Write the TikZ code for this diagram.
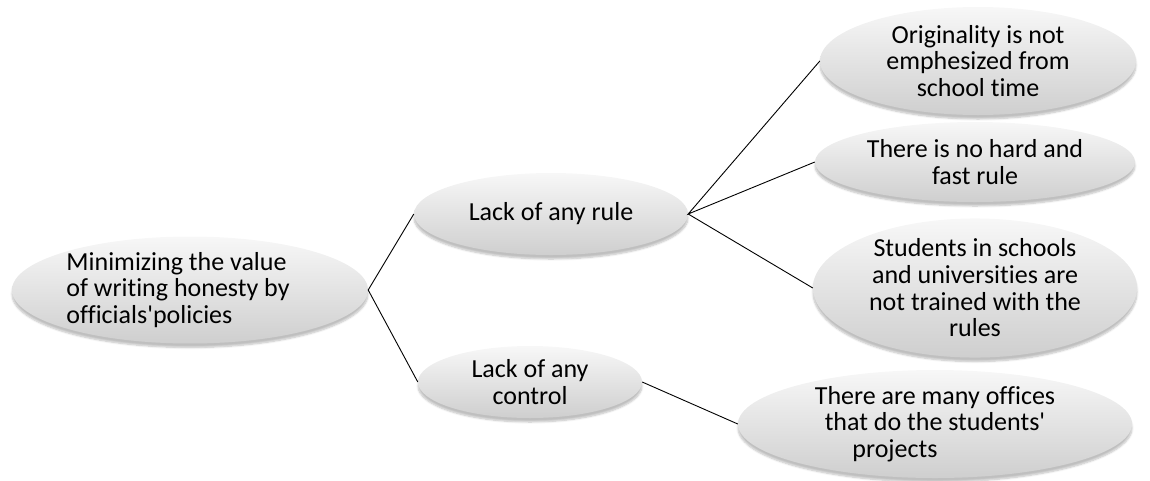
\documentclass[tikz,border=0pt]{standalone}
\usepackage{fontspec}
\setmainfont{Carlito}[Ligatures=NoCommon]
\usetikzlibrary{shapes.geometric,shadows.blur}

\tikzset{
  bubble/.style={ellipse,inner sep=0pt,top color=gray!6,bottom color=gray!38,
    blur shadow={shadow xshift=0pt,shadow yshift=-4pt,shadow blur steps=6,shadow opacity=25},
    font=\fontsize{26}{26.7}\selectfont,align=center},
  link/.style={black,line width=0.9pt},
}

\begin{document}
\begin{tikzpicture}[x=1pt,y=-1pt]
  \useasboundingbox (0,0) rectangle (1150,480);
  % causes
  \node[bubble,minimum width=356pt,minimum height=102pt,align=left] (root) at (190,290)
    {Minimizing the value\\of writing honesty by\rule{24pt}{0pt}\\officials\textquotesingle policies};
  \node[bubble,minimum width=274pt,minimum height=82pt] (rule) at (551,214) {Lack of any rule};
  \node[bubble,minimum width=224pt,minimum height=72pt] (control) at (530,382) {Lack of any\\control};
  % sub-causes
  \node[bubble,minimum width=316pt,minimum height=108pt] (orig) at (978,61)
    {Originality is not\\emphesized from\\school time};
  \node[bubble,minimum width=320pt,minimum height=80pt] (hard) at (975,162)
    {There is no hard and\\fast rule};
  \node[bubble,minimum width=324pt,minimum height=134pt] (stud) at (975,288)
    {Students in schools\\and universities are\\not trained with the\\rules};
  \node[bubble,minimum width=394pt,minimum height=108pt] (office) at (935,424)
    {There are many offices\\that do the students\textquotesingle\\projects\hspace*{80pt}};
  \draw[link] (rule.west) -- (root.east) -- (control.west);
  \draw[link] (orig.west) -- (rule.east) -- (hard.west);
  \draw[link] (rule.east) -- (stud.west);
  \draw[link] (control.east) -- (office.west);
\end{tikzpicture}
\end{document}
